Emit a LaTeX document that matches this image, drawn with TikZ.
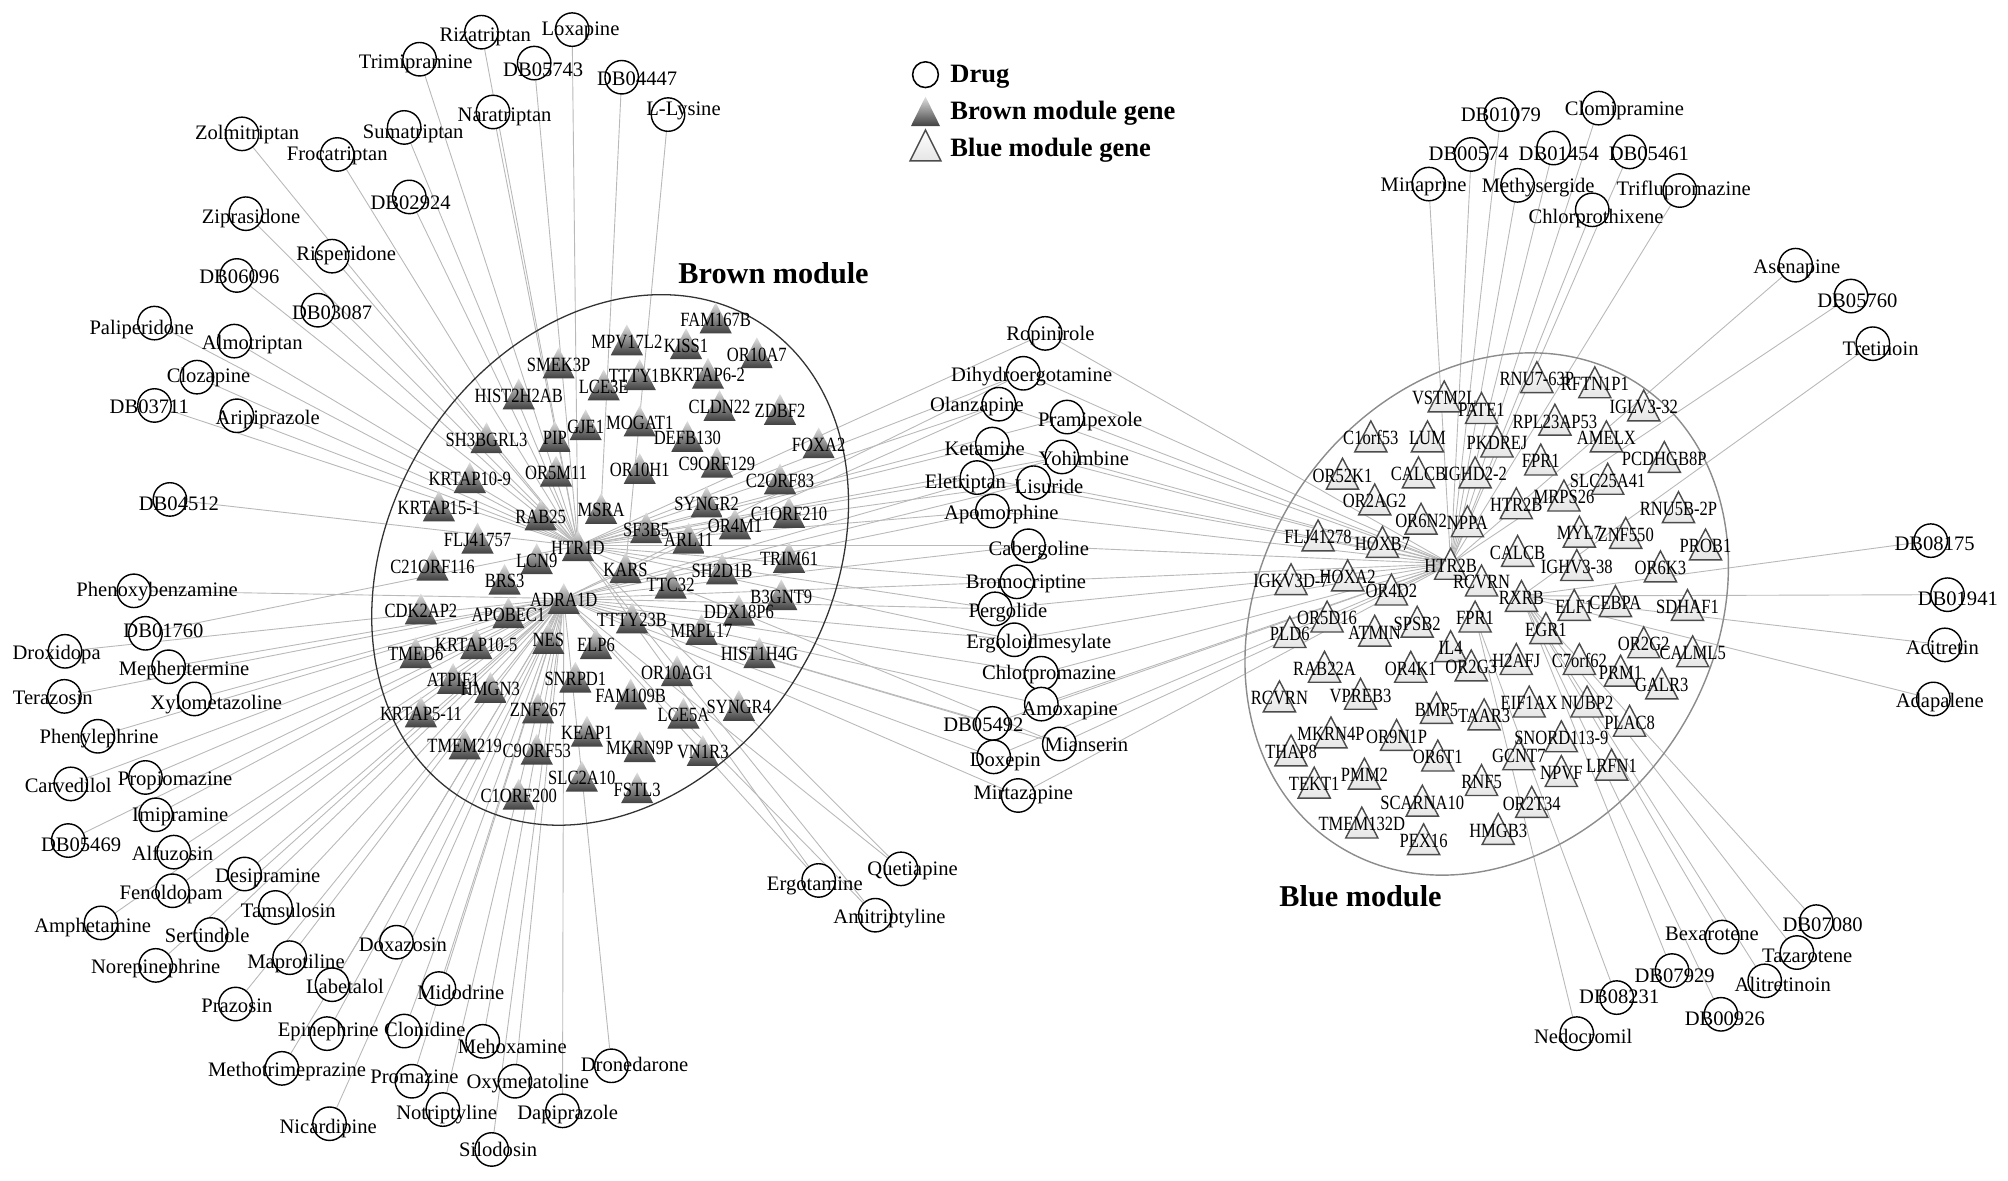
\documentclass[tikz,border=0pt]{standalone}
\usepackage{fontspec}
\setmainfont{Liberation Serif}
\newfontfamily\genefont[FakeStretch=0.82]{Liberation Serif}
\pgfdeclarelayer{edgelayer}
\pgfsetlayers{edgelayer,main}
\tikzset{
  drugc/.style={circle, draw=black, line width=0.55pt, fill=white, minimum size=13pt, inner sep=0pt},
  drugl/.style={font=\fontsize{8}{9}\selectfont, inner sep=0pt, text height=0.7em, text depth=0.05em},
  genel/.style={font=\genefont\fontsize{7.85}{8}\selectfont, inner sep=0pt, text height=0.7em, text depth=0.05em},
  edgeline/.style={draw=gray!55, line width=0.35pt},
  legtext/.style={font=\bfseries\fontsize{10.3}{12}\selectfont, anchor=west, inner sep=0pt},
  titletext/.style={font=\bfseries\fontsize{11.75}{14}\selectfont, inner sep=0pt},
  browntri/.style={top color=black!12, bottom color=black!75},
  bluetri/.style={draw=black!70, line width=0.55pt, top color=white, bottom color=black!10, line join=miter}
}
\newcommand\brownlist{%
\G{gFAM167B}{556}{247}{FAM167B}
\G{gMPV17L2}{487}{264}{MPV17L2}
\G{gKISS1}{533}{267}{KISS1}
\G{gOR10A7}{588}{274}{OR10A7}
\G{gSMEK3P}{434}{282}{SMEK3P}
\G{gTTTY1B}{497}{291}{TTTY1B}
\G{gKRTAP62}{550}{290}{KRTAP6-2}
\G{gHIST2H2AB}{403}{306}{HIST2H2AB}
\G{gLCE3E}{469}{299}{LCE3E}
\G{gCLDN22}{559}{315}{CLDN22}
\G{gZDBF2}{606}{318}{ZDBF2}
\G{gGJE1}{455}{330}{GJE1}
\G{gMOGAT1}{497}{327}{MOGAT1}
\G{gSH3BGRL3}{378}{340}{SH3BGRL3}
\G{gPIP}{431}{339}{PIP}
\G{gDEFB130}{534}{339}{DEFB130}
\G{gFOXA2}{636}{344}{FOXA2}
\G{gOR5M11}{432}{366}{OR5M11}
\G{gOR10H1}{497}{364}{OR10H1}
\G{gC9ORF129}{557}{359}{C9ORF129}
\G{gC2ORF83}{606}{372}{C2ORF83}
\G{gKRTAP109}{365}{371}{KRTAP10-9}
\G{gRAB25}{420}{400}{RAB25}
\G{gMSRA}{467}{395}{MSRA}
\G{gSYNGR2}{549}{390}{SYNGR2}
\G{gC1ORF210}{613}{398}{C1ORF210}
\G{gKRTAP151}{341}{393}{KRTAP15-1}
\G{gFLJ41757}{371}{418}{FLJ41757}
\G{gSF3B5}{502}{410}{SF3B5}
\G{gOR4M1}{571}{407}{OR4M1}
\G{gARL11}{535}{418}{ARL11}
\G{gHTR1D}{449}{424}{HTR1D}
\G{gC21ORF116}{336}{439}{C21ORF116}
\G{gLCN9}{417}{434}{LCN9}
\G{gBRS3}{392}{450}{BRS3}
\G{gKARS}{486}{441}{KARS}
\G{gTRIM61}{613}{433}{TRIM61}
\G{gSH2D1B}{561}{442}{SH2D1B}
\G{gTTC32}{521}{453}{TTC32}
\G{gADRA1D}{438}{465}{ADRA1D}
\G{gB3GNT9}{607}{462}{B3GNT9}
\G{gCDK2AP2}{327}{473}{CDK2AP2}
\G{gAPOBEC1}{395}{476}{APOBEC1}
\G{gDDX18P6}{574}{474}{DDX18P6}
\G{gTTTY23B}{491}{480}{TTTY23B}
\G{gMRPL17}{545}{489}{MRPL17}
\G{gKRTAP105}{370}{500}{KRTAP10-5}
\G{gNES}{426}{496}{NES}
\G{gELP6}{463}{500}{ELP6}
\G{gHIST1H4G}{590}{507}{HIST1H4G}
\G{gTMED6}{323}{507}{TMED6}
\G{gATPIF1}{352}{527}{ATPIF1}
\G{gHMGN3}{381}{534}{HMGN3}
\G{gSNRPD1}{447}{526}{SNRPD1}
\G{gOR10AG1}{526}{521}{OR10AG1}
\G{gFAM109B}{490}{539}{FAM109B}
\G{gKRTAP511}{327}{553}{KRTAP5-11}
\G{gZNF267}{418}{550}{ZNF267}
\G{gLCE5A}{531}{554}{LCE5A}
\G{gSYNGR4}{574}{548}{SYNGR4}
\G{gTMEM219}{361}{578}{TMEM219}
\G{gKEAP1}{456}{568}{KEAP1}
\G{gC9ORF53}{417}{582}{C9ORF53}
\G{gMKRN9P}{497}{580}{MKRN9P}
\G{gVN1R3}{546}{583}{VN1R3}
\G{gSLC2A10}{452}{603}{SLC2A10}
\G{gC1ORF200}{403}{617}{C1ORF200}
\G{gFSTL3}{495}{612}{FSTL3}}
\newcommand\bluelist{%
\G{gVSTM2L}{1122}{308}{VSTM2L}
\G{gPATE1}{1151}{317}{PATE1}
\G{gRNU763P}{1194}{293}{RNU7-63P}
\G{gRFTN1P1}{1239}{297}{RFTN1P1}
\G{gIGLV332}{1277}{315}{IGLV3-32}
\G{gC1orf53}{1065}{339}{C1orf53}
\G{gLUM}{1109}{339}{LUM}
\G{gPKDREJ}{1163}{343}{PKDREJ}
\G{gRPL23AP53}{1208}{326}{RPL23AP53}
\G{gAMELX}{1248}{339}{AMELX}
\G{gOR52K1}{1043}{368}{OR52K1}
\G{gCALCBa}{1102}{367}{CALCB}
\G{gIGHD22}{1146}{367}{IGHD2-2}
\G{gFPR1a}{1197}{357}{FPR1}
\G{gPCDHGB8P}{1293}{355}{PCDHGB8P}
\G{gOR2AG2}{1068}{388}{OR2AG2}
\G{gHTR2Ba}{1178}{391}{HTR2B}
\G{gSLC25A41}{1249}{372}{SLC25A41}
\G{gMRPS26}{1215}{385}{MRPS26}
\G{gOR6N2}{1104}{403}{OR6N2}
\G{gNPPA}{1140}{405}{NPPA}
\G{gFLJ41278}{1024}{416}{FLJ41278}
\G{gHOXB7}{1074}{421}{HOXB7}
\G{gRNU5B2P}{1304}{394}{RNU5B-2P}
\G{gMYL7}{1227}{413}{MYL7}
\G{gZNF550}{1263}{414}{ZNF550}
\G{gCALCBb}{1179}{428}{CALCB}
\G{gPROB1}{1325}{423}{PROB1}
\G{gHTR2B}{1127}{438}{HTR2B}
\G{gIGHV338}{1225}{439}{IGHV3-38}
\G{gOR6K3}{1290}{440}{OR6K3}
\G{gIGKV3D7}{1003}{450}{IGKV3D-7}
\G{gHOXA2}{1047}{447}{HOXA2}
\G{gOR4D2}{1081}{458}{OR4D2}
\G{gRCVRNa}{1151}{451}{RCVRN}
\G{gRXRB}{1182}{463}{RXRB}
\G{gELF1}{1223}{470}{ELF1}
\G{gCEBPA}{1255}{467}{CEBPA}
\G{gSDHAF1}{1311}{470}{SDHAF1}
\G{gOR5D16}{1031}{479}{OR5D16}
\G{gPLD6}{1002}{491}{PLD6}
\G{gATMIN}{1068}{490}{ATMIN}
\G{gSPSB2}{1101}{483}{SPSB2}
\G{gFPR1b}{1146}{479}{FPR1}
\G{gEGR1}{1201}{488}{EGR1}
\G{gIL4}{1127}{502}{IL4}
\G{gH2AFJ}{1178}{512}{H2AFJ}
\G{gC7orf62}{1227}{512}{C7orf62}
\G{gOR2G2}{1277}{499}{OR2G2}
\G{gCALML5}{1315}{506}{CALML5}
\G{gRAB22A}{1029}{518}{RAB22A}
\G{gOR4K1}{1096}{518}{OR4K1}
\G{gOR2G3}{1143}{517}{OR2G3}
\G{gPRM1}{1259}{521}{PRM1}
\G{gGALR3}{1291}{531}{GALR3}
\G{gRCVRNb}{994}{541}{RCVRN}
\G{gVPREB3}{1057}{539}{VPREB3}
\G{gBMP5}{1116}{550}{BMP5}
\G{gEIF1AX}{1188}{545}{EIF1AX}
\G{gNUBP2}{1233}{545}{NUBP2}
\G{gTAAR3}{1153}{555}{TAAR3}
\G{gPLAC8}{1266}{560}{PLAC8}
\G{gSNORD1139}{1213}{572}{SNORD113-9}
\G{gMKRN4P}{1034}{569}{MKRN4P}
\G{gOR9N1P}{1085}{571}{OR9N1P}
\G{gGCNT7}{1180}{586}{GCNT7}
\G{gTHAP8}{1003}{583}{THAP8}
\G{gOR6T1}{1117}{587}{OR6T1}
\G{gNPVF}{1213}{599}{NPVF}
\G{gLRFN1}{1252}{594}{LRFN1}
\G{gRNF5}{1151}{606}{RNF5}
\G{gPMM2}{1060}{601}{PMM2}
\G{gTEKT1}{1021}{608}{TEKT1}
\G{gSCARNA10}{1105}{622}{SCARNA10}
\G{gOR2T34}{1190}{623}{OR2T34}
\G{gTMEM132D}{1058}{639}{TMEM132D}
\G{gPEX16}{1106}{652}{PEX16}
\G{gHMGB3}{1164}{644}{HMGB3}}
\newcommand\druglist{%
\D{Riza}{374}{25}{377}{26}{Rizatriptan}
\D{Loxa}{444.5}{23}{451}{21}{Loxapine}
\D{Trim}{326}{46}{323}{47}{Trimipramine}
\D{DBa}{415}{49}{422}{53}{DB05743}
\D{DBb}{483}{60}{495}{60}{DB04447}
\D{Llys}{519}{89}{531}{83}{L-Lysine}
\D{Nara}{383}{87}{392}{88}{Naratriptan}
\D{Suma}{314}{99}{321}{101}{Sumatriptan}
\D{Zolm}{188}{104}{192}{102}{Zolmitriptan}
\D{Froc}{262}{120}{262}{118}{Frocatriptan}
\D{DBc}{318}{153}{319}{156}{DB02924}
\D{Zipr}{191}{166}{195}{167}{Ziprasidone}
\D{Risp}{258}{199}{269}{196}{Risperidone}
\D{DBd}{184}{214}{186}{214}{DB06096}
\D{DBe}{247}{241}{258}{242}{DB03087}
\D{Pali}{120}{251}{110}{253}{Paliperidone}
\D{Almo}{182}{265}{196}{265}{Almotriptan}
\D{Cloz}{153}{293}{162}{291}{Clozapine}
\D{DBf}{120}{315}{116}{315}{DB03711}
\D{Arip}{184}{323}{208}{323}{Aripiprazole}
\D{DBg}{132}{388}{139}{390}{DB04512}
\D{Phen}{104}{459}{122}{457}{Phenoxybenzamine}
\D{DBh}{113}{492}{127}{489}{DB01760}
\D{Drox}{50.5}{506}{44}{506}{Droxidopa}
\D{Meph}{131}{518}{143}{518}{Mephentermine}
\D{Tera}{50}{541}{41}{541}{Terazosin}
\D{Xylo}{151}{543}{168}{545}{Xylometazoline}
\D{Pheny}{76}{572}{77}{571}{Phenylephrine}
\D{Carv}{55}{609}{53}{609}{Carvedilol}
\D{Prop}{113}{604}{136}{604}{Propiomazine}
\D{Imip}{121}{633}{140}{632}{Imipramine}
\D{DBi}{53}{653}{63}{655}{DB05469}
\D{Alfu}{135}{662}{134}{662}{Alfuzosin}
\D{Desi}{190}{679}{208}{679}{Desipramine}
\D{Feno}{134}{692}{133}{692}{Fenoldopam}
\D{Tams}{214}{705}{224}{706}{Tamsulosin}
\D{Amph}{78.5}{717}{72}{718}{Amphetamine}
\D{Sert}{164}{726}{161}{726}{Sertindole}
\D{Nore}{121}{750}{121}{750}{Norepinephrine}
\D{Mapr}{225}{744}{230}{746}{Maprotiline}
\D{Doxa}{308}{732}{313}{733}{Doxazosin}
\D{Labe}{258}{765}{268}{765}{Labetalol}
\D{Mido}{341}{768}{358}{770}{Midodrine}
\D{Praz}{183}{780}{184}{780}{Prazosin}
\D{Epin}{254}{803}{255}{799}{Epinephrine}
\D{Clon}{314}{801}{330}{799}{Clonidine}
\D{Meho}{375}{809}{398}{812}{Mehoxamine}
\D{Meth}{219}{830}{223}{830}{Methotrimeprazine}
\D{Prom}{320}{840}{322}{835}{Promazine}
\D{Notr}{344}{862}{347}{863}{Notriptyline}
\D{Nica}{256}{873}{255}{874}{Nicardipine}
\D{Silo}{382}{893}{387}{892}{Silodosin}
\D{Oxym}{400}{840}{410}{839}{Oxymetatoline}
\D{Dapi}{437}{863}{441}{863}{Dapiprazole}
\D{Dron}{475}{828}{493}{826}{Dronedarone}
\D{Ergt}{636}{684}{633}{685}{Ergotamine}
\D{Quet}{700}{675}{709}{674}{Quetiapine}
\D{Amit}{680}{711}{691}{711}{Amitriptyline}
\D{Ropi}{812}{259}{816}{258}{Ropinirole}
\D{Dihy}{795}{290}{801.5}{290}{Dihydroergotamine}
\D{Olan}{776}{314}{759}{313}{Olanzapine}
\D{Pram}{829}{324}{847}{325}{Pramipexole}
\D{Keta}{771}{345}{765}{347}{Ketamine}
\D{Yohi}{825}{355}{842}{355}{Yohimbine}
\D{Elet}{759}{371}{750}{373}{Eletriptan}
\D{Lisu}{803}{375}{815}{377}{Lisuride}
\D{Apom}{771}{397}{778}{397}{Apomorphine}
\D{Cabe}{799}{424}{807}{425}{Cabergoline}
\D{Brom}{790}{452}{797}{451}{Bromocriptine}
\D{Perg}{773}{473}{783}{473}{Pergolide}
\D{Ergl}{788}{497}{807}{497}{Ergoloidmesylate}
\D{Chlp}{809}{523}{815}{521}{Chlorpromazine}
\D{Amox}{809}{547}{831}{549}{Amoxapine}
\D{DBj}{771}{562}{764}{562}{DB05492}
\D{Mian}{823}{578}{844}{577}{Mianserin}
\D{Doxe}{772}{588}{781}{589}{Doxepin}
\D{Mirt}{791}{618}{795}{615}{Mirtazapine}
\D{DBk}{1166}{89}{1166}{88}{DB01079}
\D{DBl}{1143}{120}{1141}{118}{DB00574}
\D{Mina}{1110}{143}{1106}{142}{Minaprine}
\D{Clom}{1242}{84}{1262}{83}{Clomipramine}
\D{DBm}{1207}{115}{1211}{118}{DB01454}
\D{DBn}{1266}{118}{1281}{118}{DB05461}
\D{Mets}{1179}{144}{1195}{143}{Methysergide}
\D{Trif}{1305}{148}{1308}{145}{Triflupromazine}
\D{Chlx}{1237}{163}{1240}{167}{Chlorprothixene}
\D{Asen}{1395}{206}{1396}{206}{Asenapine}
\D{DBo}{1438}{230}{1443}{232}{DB05760}
\D{Tret}{1455}{267}{1461}{270}{Tretinoin}
\D{DBp}{1500}{420}{1503}{421}{DB08175}
\D{DBq}{1513}{462}{1521}{464}{DB01941}
\D{Acit}{1511}{501}{1509}{502}{Acitretin}
\D{Adap}{1502}{543}{1507}{543}{Adapalene}
\D{DBr}{1411}{716}{1416}{717}{DB07080}
\D{Bexa}{1338}{728}{1330}{724}{Bexarotene}
\D{Taza}{1396}{740}{1404}{741}{Tazarotene}
\D{DBs}{1299}{754}{1301}{757}{DB07929}
\D{Alit}{1371}{762}{1385}{764}{Alitretinoin}
\D{DBt}{1256}{775}{1258}{773}{DB08231}
\D{DBu}{1337}{788}{1340}{790}{DB00926}
\D{Nedo}{1225}{803}{1230}{804}{Nedocromil}}
\begin{document}
\begin{tikzpicture}[x=0.5pt,y=-0.5pt]
\useasboundingbox (0,0) rectangle (1560,917.5);

% module outlines
\draw[draw=black!80, line width=0.5pt, rotate around={58.25:(474,435)}] (474,435) ellipse [x radius=218, y radius=171];
\draw[draw=black!45, line width=0.55pt, rotate around={56.4:(1155,477)}] (1155,477) ellipse [x radius=214, y radius=175];

% titles
\node[titletext] (browntitle) at (601,212) {Brown module};
\node[titletext] (bluetitle) at (1057,696) {Blue module};

% legend
\node[circle, draw=black, line width=0.6pt, minimum size=10pt, inner sep=0pt] (legc) at (719,58) {};
\shade[browntri] (707.7,98) -- (719,75) -- (730.3,98) -- cycle;
\path[bluetri] (707,125) -- (719,101) -- (731,125) -- cycle;
\node[legtext] (legct) at (738,60) {Drug};
\node[legtext] (legbt) at (738,88) {Brown module gene};
\node[legtext] (legwt) at (738,117) {Blue module gene};

% gene shapes
\def\G#1#2#3#4{\shade[browntri] (#2-12.5,#3+12) -- (#2,#3-12) -- (#2+12.5,#3+12) -- cycle;}
\brownlist
\def\G#1#2#3#4{\path[bluetri] (#2-12.5,#3+12) -- (#2,#3-12) -- (#2+12.5,#3+12) -- cycle;}
\bluelist
% drug circles
\def\D#1#2#3#4#5#6{\node[drugc] (#1) at (#2,#3) {};}
\druglist
% labels
\def\G#1#2#3#4{\node[genel] (#1) at (#2,#3) {#4};}
\brownlist
\bluelist
\def\D#1#2#3#4#5#6{\node[drugl] (#1l) at (#4,#5) {#6};}
\druglist

% connectors
\begin{pgfonlayer}{edgelayer}
\foreach \d in {Riza,Loxa,Trim,DBa,Nara,Suma,Zolm,Froc,DBc,Zipr,Risp,DBd,DBe,Pali,Almo,Cloz,DBf,Arip,DBg,DBh,Ropi,Dihy,Olan,Pram,Keta,Yohi,Elet,Lisu,Apom,Cabe,Brom,Perg,Ergl,Mian,Ergt,Quet,Amit}
  {\draw[edgeline] (\d) -- (gHTR1D.center);}
\foreach \d in {Phen,Drox,Meph,Tera,Xylo,Pheny,Carv,Prop,Imip,DBi,Alfu,Desi,Feno,Tams,Amph,Sert,Nore,Mapr,Doxa,Labe,Mido,Praz,Epin,Clon,Meho,Meth,Prom,Notr,Nica,Silo,Oxym,Dapi,Dron,Dihy,Olan,Yohi,Lisu,Apom,Cabe,Brom,Perg,Ergl,Chlp,Amox,DBj,Mian,Doxe,Mirt,Ergt,Quet,Amit}
  {\draw[edgeline] (\d) -- (gADRA1D.center);}
\draw[edgeline] (Llys) -- (gKARS.center);
\draw[edgeline] (DBb) -- (gMSRA.center);
\foreach \d in {DBk,DBl,Mina,Clom,DBm,DBn,Mets,Trif,Chlx,Asen,DBo,Ropi,Dihy,Olan,Pram,Keta,Yohi,Elet,Lisu,Apom,Cabe,Brom,Perg,Ergl,Chlp,Amox,DBj,Mian,Doxe,Mirt}
  {\draw[edgeline] (\d) -- (gHTR2B.center);}
\foreach \d in {Tret,DBp,DBq,Acit,Adap,DBr,Bexa,Taza,Alit,DBu,DBs}
  {\draw[edgeline] (\d) -- (gRXRB.center);}
\draw[edgeline] (Nedo) -- (gFPR1b.center);
\draw[edgeline] (DBt) -- (gFPR1b.center);
\end{pgfonlayer}
\end{tikzpicture}
\end{document}
